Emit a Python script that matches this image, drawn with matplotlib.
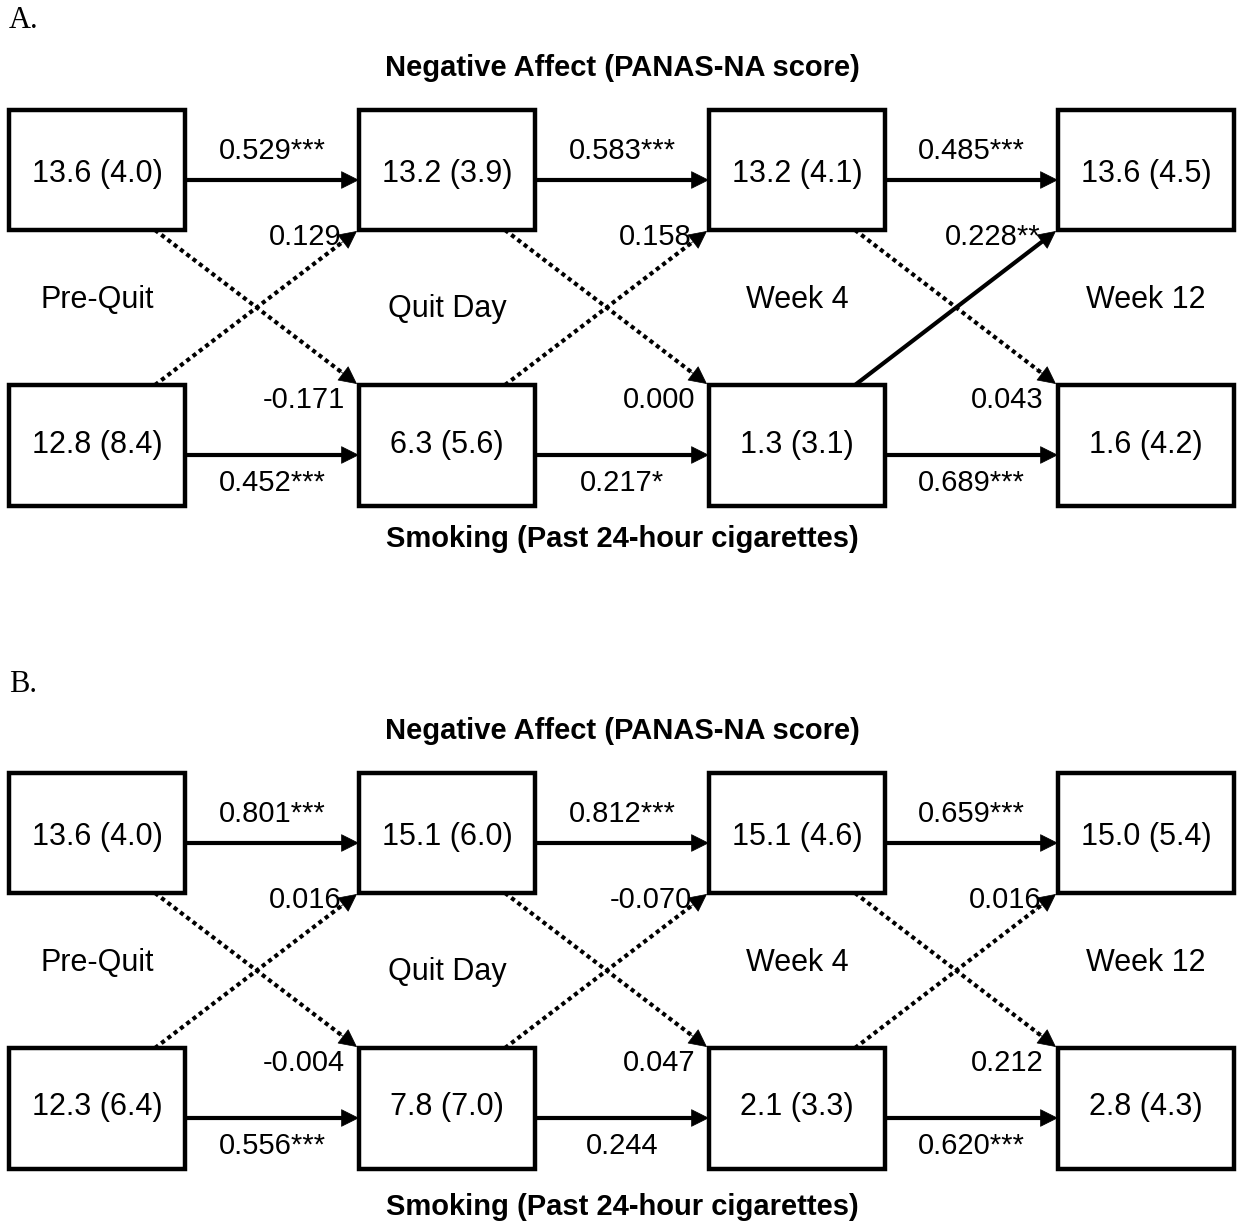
import matplotlib
matplotlib.use("Agg")
import matplotlib.pyplot as plt
from matplotlib import font_manager
from matplotlib.patches import Rectangle

# --- data -------------------------------------------------------------
panel_labels = ["A.", "B."]
timepoints = ["Pre-Quit", "Quit Day", "Week 4", "Week 12"]
top_title = "Negative Affect (PANAS-NA score)"
bottom_title = "Smoking (Past 24-hour cigarettes)"

na_mean_A = [13.6, 13.2, 13.2, 13.6]
na_sd_A = [4.0, 3.9, 4.1, 4.5]
smk_mean_A = [12.8, 6.3, 1.3, 1.6]
smk_sd_A = [8.4, 5.6, 3.1, 4.2]
na_stab_A = ["0.529***", "0.583***", "0.485***"]
smk_stab_A = ["0.452***", "0.217*", "0.689***"]
smk_to_na_A = ["0.129", "0.158", "0.228**"]
na_to_smk_A = ["-0.171", "0.000", "0.043"]

na_mean_B = [13.6, 15.1, 15.1, 15.0]
na_sd_B = [4.0, 6.0, 4.6, 5.4]
smk_mean_B = [12.3, 7.8, 2.1, 2.8]
smk_sd_B = [6.4, 7.0, 3.3, 4.3]
na_stab_B = ["0.801***", "0.812***", "0.659***"]
smk_stab_B = ["0.556***", "0.244", "0.620***"]
smk_to_na_B = ["0.016", "-0.070", "0.016"]
na_to_smk_B = ["-0.004", "0.047", "0.212"]

panels = [
    (na_mean_A, na_sd_A, smk_mean_A, smk_sd_A, na_stab_A, smk_stab_A, smk_to_na_A, na_to_smk_A),
    (na_mean_B, na_sd_B, smk_mean_B, smk_sd_B, na_stab_B, smk_stab_B, smk_to_na_B, na_to_smk_B),
]

# --- fonts ------------------------------------------------------------
avail = {f.name for f in font_manager.fontManager.ttflist}
SANS = "Liberation Sans Narrow" if "Liberation Sans Narrow" in avail else "Liberation Sans"
SERIF = "Liberation Serif"

# --- layout (pixels) ----------------------------------------------------
W, H = 1241, 1224
BOX_X = [9, 359, 709, 1058]
BOX_W = 176
TOP_Y, TOP_H = 110, 120
BOT_Y, BOT_H = 385, 121
OFFSET = 663
LW = 3.0


def arrow(ax, x0, y0, x1, y1, solid):
    ls = "-" if solid else (0, (1, 0.9))
    # stop the line a bit before the tip so the head stays clean
    dx, dy = x1 - x0, y1 - y0
    n = (dx ** 2 + dy ** 2) ** 0.5
    ex, ey = x1 - dx / n * 10, y1 - dy / n * 10
    ax.plot([x0, ex], [y0, ey], color="black", lw=LW, ls=ls, solid_capstyle="butt")
    ax.annotate("", xy=(x1, y1), xytext=(x1 - dx / n * 25, y1 - dy / n * 25),
                arrowprops=dict(arrowstyle="-|>,head_length=0.6,head_width=0.3",
                                mutation_scale=20, color="black", lw=0.5,
                                shrinkA=0, shrinkB=0))


fig = plt.figure(figsize=(12.41, 12.24), dpi=100)
ax = fig.add_axes([0, 0, 1, 1])
ax.set_xlim(0, W)
ax.set_ylim(H, 0)
ax.axis("off")

for p, (na_m, na_s, sm_m, sm_s, na_st, sm_st, up, down) in enumerate(panels):
    off = p * OFFSET
    ty, by = TOP_Y + off, BOT_Y + off
    ax.text(9, 21 + off, panel_labels[p], family=SERIF, fontsize=22, ha="left", va="center")
    ax.text(622, 68 + off, top_title, family=SANS, fontweight="bold", fontsize=21,
            ha="center", va="center")
    ax.text(622, 539 + off + (5 if p else 0), bottom_title, family=SANS, fontweight="bold",
            fontsize=21, ha="center", va="center")

    for i in range(4):
        x = BOX_X[i]
        ax.add_patch(Rectangle((x, ty), BOX_W, TOP_H, fill=False, lw=3.2, ec="black"))
        ax.add_patch(Rectangle((x, by), BOX_W, BOT_H, fill=False, lw=3.2, ec="black"))
        ax.text(x + BOX_W / 2, ty + TOP_H / 2 + 4, f"{na_m[i]:.1f} ({na_s[i]:.1f})",
                family=SANS, fontsize=22, ha="center", va="center")
        ax.text(x + BOX_W / 2, by + BOT_H / 2 - 1, f"{sm_m[i]:.1f} ({sm_s[i]:.1f})",
                family=SANS, fontsize=22, ha="center", va="center")
        ly = 309 if i == 1 else 300
        ax.text(x + BOX_W / 2, ly + off, timepoints[i], family=SANS, fontsize=22,
                ha="center", va="center")

    for i in range(3):
        x0 = BOX_X[i] + BOX_W
        x1 = BOX_X[i + 1]
        mid = (x0 + x1) / 2
        # stability paths
        arrow(ax, x0, ty + 70, x1, ty + 70, True)
        arrow(ax, x0, by + 70, x1, by + 70, True)
        ax.text(mid, ty + 41, na_st[i], family=SANS, fontsize=21, ha="center", va="center")
        ax.text(mid, by + 98, sm_st[i], family=SANS, fontsize=21, ha="center", va="center")
        # cross-lagged paths
        sx = x0 - 30
        arrow(ax, sx, ty + TOP_H, x1 - 2, by - 1, "*" in down[i])
        arrow(ax, sx, by, x1 - 2, ty + TOP_H + 1, "*" in up[i])
        ax.text(x1 - 17, ty + TOP_H + 7, up[i], family=SANS, fontsize=21,
                ha="right", va="center")
        ax.text(x1 - 14, by + 15, down[i], family=SANS, fontsize=21,
                ha="right", va="center")

fig.savefig("out.png", dpi=100)
